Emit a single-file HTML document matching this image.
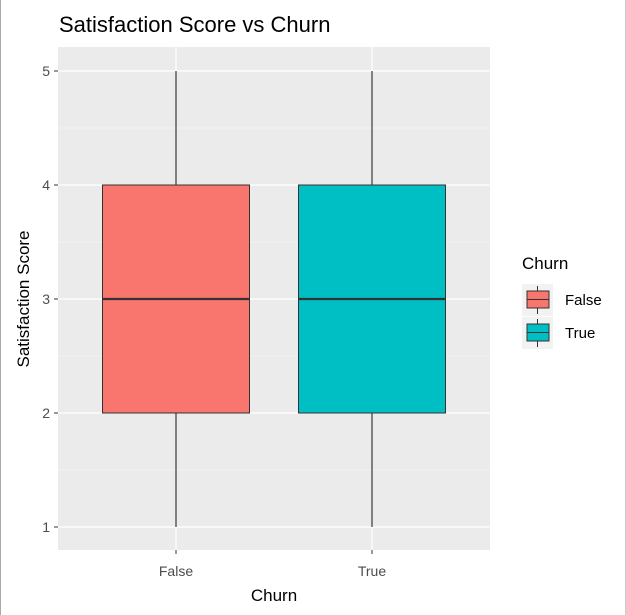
<!DOCTYPE html>
<html><head><meta charset="utf-8"><style>
body{margin:0;background:#fff;}
svg{display:block;font-family:"Liberation Sans",Arial,sans-serif;}
</style></head><body>
<svg id="c" width="626" height="615">
<rect x="0" y="0" width="626" height="615" fill="#fff"/>
<line x1="0.5" y1="0" x2="0.5" y2="615" stroke="#aaa"/>
<line x1="625.5" y1="0" x2="625.5" y2="615" stroke="#ccc"/>
<text x="59" y="32" font-size="22" fill="#000">Satisfaction Score vs Churn</text>
<rect x="58" y="47" width="432" height="503" fill="#ebebeb"/>
<g id="grid"></g><g id="boxes"></g><g id="axes"></g>
<text x="274" y="601" font-size="17" text-anchor="middle" fill="#000">Churn</text>
<text transform="translate(29,299) rotate(-90)" font-size="17" text-anchor="middle" fill="#000">Satisfaction Score</text>
<g>
<text x="522" y="269" font-size="17" fill="#000">Churn</text>
<g id="legend"></g>
</g>
</svg>
<script>
const categories=["False","True"];
const lowerWhisker=[1,1];
const q1=[2,2];
const medians=[3,3];
const q3=[4,4];
const upperWhisker=[5,5];
const colors=["#F8766D","#00BFC4"];
const yTicks=[1,2,3,4,5];
const NS="http://www.w3.org/2000/svg";
function y(v){return 527-(v-1)*114;}
function x(i){return 176+i*196;}
function mk(t,a,p){const e=document.createElementNS(NS,t);for(const k in a)e.setAttribute(k,a[k]);p.appendChild(e);return e;}
const grid=document.getElementById('grid'),boxes=document.getElementById('boxes'),axes=document.getElementById('axes'),legend=document.getElementById('legend');
for(let k=0;k<yTicks.length;k++){
 const v=yTicks[k];
 const g=mk('line',{x1:58,x2:490,y1:y(v),y2:y(v),stroke:'#fff','stroke-width':1.2},grid);
 
 
 if(k<yTicks.length-1){const m=mk('line',{x1:58,x2:490,y1:y(v+0.5),y2:y(v+0.5),stroke:'#f6f6f6','stroke-width':0.6},grid);
 
 }
 const t=mk('line',{x1:54,x2:58,y1:y(v),y2:y(v),stroke:'#333'},axes);
 
 
 const l=mk('text',{x:50,y:y(v)+5,'font-size':14,'text-anchor':'end',fill:'#4d4d4d'},axes);
 l.textContent=v;
 
 
}
categories.forEach((c,i)=>{
 const g=mk('line',{x1:x(i),x2:x(i),y1:47,y2:550,stroke:'#fff','stroke-width':1.2},grid);
 
 
 const w=mk('line',{x1:x(i),x2:x(i),y1:y(upperWhisker[i]),y2:y(lowerWhisker[i]),stroke:'#111','stroke-width':1},boxes);
 
 
 const b=mk('rect',{x:x(i)-73.5,y:y(q3[i]),width:147,height:y(q1[i])-y(q3[i]),fill:colors[i],stroke:'#333','stroke-width':1},boxes);
 
 
 const m=mk('line',{x1:x(i)-73.5,x2:x(i)+73.5,y1:y(medians[i]),y2:y(medians[i]),stroke:'#333','stroke-width':2.2},boxes);
 
 
 const t=mk('line',{x1:x(i),x2:x(i),y1:550,y2:554,stroke:'#333'},axes);
 
 
 const l=mk('text',{x:x(i),y:576,'font-size':14,'text-anchor':'middle',fill:'#4d4d4d'},axes);
 l.textContent=c;
 
 
 const ky=284+i*33;
 const kb=mk('rect',{x:522,y:ky,width:31,height:32,fill:'#f2f2f2'},legend);
 
 
 const kw=mk('line',{x1:537.5,x2:537.5,y1:ky+2,y2:ky+30,stroke:'#333'},legend);
 
 
 const kr=mk('rect',{x:527,y:ky+7,width:22,height:17,fill:colors[i],stroke:'#333'},legend);
 
 
 const km=mk('line',{x1:527,x2:549,y1:ky+15.5,y2:ky+15.5,stroke:'#333'},legend);
 
 
 const kt=mk('text',{x:565,y:ky+21,'font-size':15,fill:'#000'},legend);
 kt.textContent=c;
 
 
});
</script>
</body></html>
